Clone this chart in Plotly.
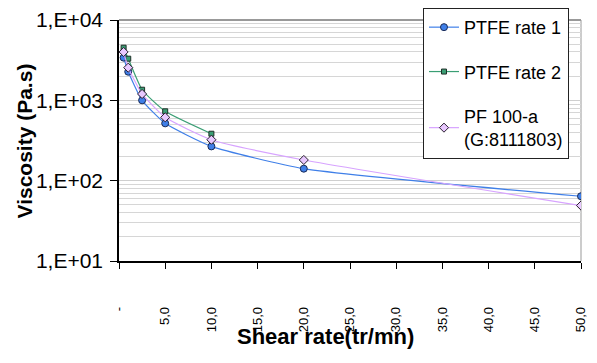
import plotly.graph_objects as go

# Data
shear_rate = [0.5, 1.0, 2.5, 5.0, 10.0, 20.0, 50.0]
ptfe_rate1 = [3400, 2270, 1000, 517, 267, 141, 64]
shear_rate2 = [0.5, 1.0, 2.5, 5.0, 10.0]
ptfe_rate2 = [4520, 3300, 1355, 730, 384]
pf100a = [4000, 2550, 1200, 614, 323, 181, 49]

x_tickvals = [0, 5, 10, 15, 20, 25, 30, 35, 40, 45, 50]
x_ticktext = ["-", "5,0", "10,0", "15,0", "20,0", "25,0", "30,0", "35,0", "40,0", "45,0", "50,0"]
y_tickvals = [10, 100, 1000, 10000]
y_ticktext = ["1,E+01", "1,E+02", "1,E+03", "1,E+04"]

FONT = "Liberation Sans, Arial, sans-serif"

fig = go.Figure()
fig.add_trace(go.Scatter(
    x=shear_rate, y=ptfe_rate1, name="PTFE rate 1", legendgroup="a",
    mode="lines+markers",
    line=dict(color="#3f7fe8", width=1.2, shape="spline", smoothing=0.5),
    marker=dict(symbol="circle", size=7, color="#3f7fe8", line=dict(color="#1a2a55", width=1)),
))
fig.add_trace(go.Scatter(
    x=shear_rate2, y=ptfe_rate2, name="PTFE rate 2", legendgroup="b",
    mode="lines+markers",
    line=dict(color="#3a9e74", width=1.2, shape="spline", smoothing=0.5),
    marker=dict(symbol="square", size=5, color="#3a9e74", line=dict(color="#1f2f28", width=1)),
))
fig.add_trace(go.Scatter(
    x=shear_rate, y=pf100a, name="PF 100-a<br>(G:8111803)", legendgroup="c",
    mode="lines+markers",
    line=dict(color="#d7a3ff", width=1.2, shape="spline", smoothing=0.5),
    marker=dict(symbol="diamond", size=7, color="#e8c8ff", line=dict(color="#2a2030", width=1)),
))

# page body has an 8px margin, so the figure is sized to end at the window edge
fig.update_layout(
    width=589, height=355,
    margin=dict(l=111, r=16, t=12, b=102, autoexpand=False),
    paper_bgcolor="white", plot_bgcolor="white",
    font=dict(family=FONT, color="black"),
    showlegend=True,
    legend=dict(
        x=0.658, y=1.05, xanchor="left", yanchor="top",
        bgcolor="white", bordercolor="#222222", borderwidth=1,
        font=dict(size=18, family=FONT, color="black"),
        tracegroupgap=18, itemwidth=30,
    ),
    xaxis=dict(
        range=[0, 50], tickvals=x_tickvals, ticktext=x_ticktext,
        tickangle=-90, tickfont=dict(size=13, family=FONT),
        ticks="outside", ticklen=6, tickcolor="black", tickwidth=1,
        showline=True, linecolor="black", linewidth=1.5,
        showgrid=False, zeroline=False, ticklabelstandoff=33,
        automargin=False,
    ),
    yaxis=dict(
        type="log", range=[1, 4], tickvals=y_tickvals, ticktext=y_ticktext,
        tickfont=dict(size=21, family=FONT),
        ticks="outside", ticklen=7, tickcolor="black", tickwidth=1,
        showline=True, linecolor="black", linewidth=1.5,
        showgrid=True, gridcolor="#cfcfcf", gridwidth=1,
        minor=dict(dtick="D1", showgrid=True, gridcolor="#d6d6d6", gridwidth=1, ticks=""),
        zeroline=False, ticklabelstandoff=3, automargin=False,
    ),
    annotations=[
        dict(text="<b>Viscosity (Pa.s)</b>", xref="paper", yref="paper",
             x=-0.2035, y=0.5, textangle=-90, showarrow=False,
             font=dict(size=21, family=FONT, color="black"),
             xanchor="center", yanchor="middle"),
        dict(text="<b>Shear rate(tr/mn)</b>", xref="paper", yref="paper",
             x=0.448, y=-0.315, showarrow=False,
             font=dict(size=22, family=FONT, color="black"),
             xanchor="center", yanchor="middle"),
    ],
    shapes=[
        dict(type="line", xref="paper", yref="paper", x0=0, x1=1, y0=1, y1=1,
             line=dict(color="#999999", width=2), layer="below"),
        dict(type="line", xref="paper", yref="paper", x0=1, x1=1, y0=0, y1=1,
             line=dict(color="#999999", width=1), layer="below"),
    ],
)

fig.write_html("out.html")
